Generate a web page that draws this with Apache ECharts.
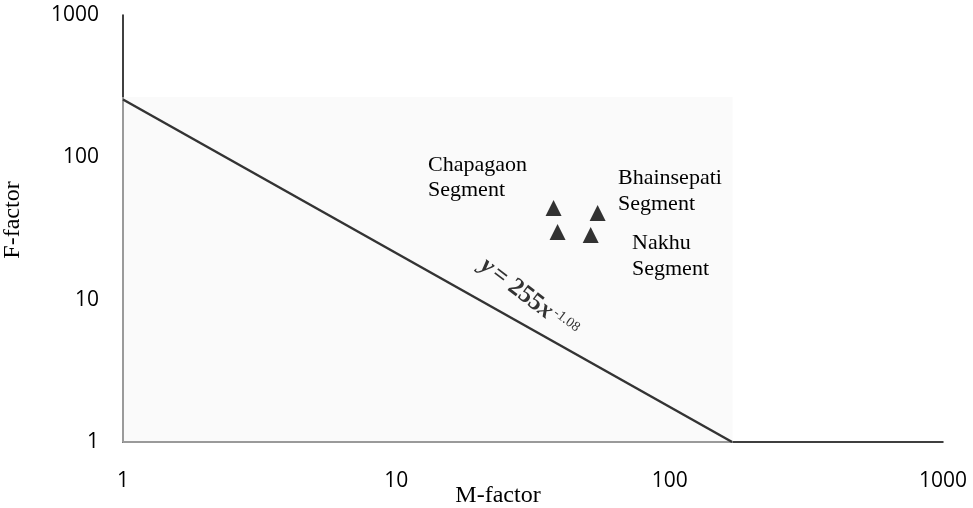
<!DOCTYPE html>
<html>
<head>
<meta charset="utf-8">
<script src="https://cdn.jsdelivr.net/npm/echarts@6/dist/echarts.min.js"></script>
<style>
  html, body { margin: 0; padding: 0; background: #ffffff; }
  #chart { width: 973px; height: 508px; }
</style>
</head>
<body>
<div id="chart"></div>
<script>
// Segment measurements (M-factor vs F-factor)
const mFactor = [37.6, 38.9, 54.5, 51.4];
const fFactor = [44.1, 29.9, 40.6, 28.5];

// Power-law boundary y = 255 x^-1.08, drawn between its two end points
const fitX = [1, 169.2];
const fitY = [255, 1];

// Shaded zone under the boundary
const shadeX = [1, 170];
const shadeY = [1, 265];

// Axis range (log scale)
const axisMin = 1;
const axisMax = 1000;

const points = mFactor.map((m, i) => [m, fFactor[i]]);
const fitLine = fitX.map((x, i) => [x, fitY[i]]);
const frame = [[shadeX[0], shadeY[1]], [shadeX[0], shadeY[0]], [shadeX[1], shadeY[0]]];

const serif = '"Liberation Serif", "DejaVu Serif", serif';
const sans = '"Open Sans", "Noto Sans", sans-serif';

const chart = echarts.init(document.getElementById('chart'));

const logAxis = (labelMargin) => ({
  type: 'log',
  logBase: 10,
  min: axisMin,
  max: axisMax,
  axisLine: { show: true, lineStyle: { color: '#000000', width: 1.5 } },
  axisTick: { show: false },
  splitLine: { show: false },
  axisLabel: {
    color: '#000000', fontFamily: sans, fontSize: 21, margin: labelMargin,
    formatter: (v) => String(Math.round(v))
  }
});

const txt = (x, y, text, font, extra) => ({
  type: 'text', x: x, y: y, z: 100,
  style: Object.assign({ text: text, font: font, fill: '#000', align: 'left', verticalAlign: 'middle' }, extra || {})
});

chart.setOption({
  animation: false,
  backgroundColor: '#ffffff',
  grid: { left: 123, right: 30, top: 15, bottom: 66 },
  xAxis: logAxis(29),
  yAxis: logAxis(24),
  series: [
    {
      name: 'zone',
      type: 'line',
      data: frame,
      symbol: 'none',
      lineStyle: { color: '#9a9a9a', width: 2 },
      z: 3,
      markArea: {
        silent: true,
        itemStyle: { color: '#fafafa' },
        data: [[{ coord: [shadeX[0], shadeY[0]] }, { coord: [shadeX[1], shadeY[1]] }]]
      }
    },
    {
      name: 'boundary',
      type: 'line',
      data: fitLine,
      symbol: 'none',
      lineStyle: { color: '#333333', width: 2.5 },
      z: 4
    },
    {
      name: 'segments',
      type: 'scatter',
      data: points,
      symbol: 'triangle',
      symbolSize: [16, 16],
      itemStyle: { color: '#000000' },
      z: 5
    }
  ],
  graphic: [
    txt(498, 496, 'M-factor', '24px ' + serif, { align: 'center' }),
    Object.assign(txt(13, 220, 'F-factor', '24px ' + serif, { align: 'center' }), { rotation: Math.PI / 2 }),
    txt(428, 178, 'Chapagaon\nSegment', '22px ' + serif, { lineHeight: 25 }),
    txt(618, 191, 'Bhainsepati\nSegment', '22px ' + serif, { lineHeight: 26 }),
    txt(632, 256, 'Nakhu\nSegment', '22px ' + serif, { lineHeight: 26 }),
    {
      type: 'text', x: 529, y: 298, rotation: -0.65, z: 100,
      style: {
        text: '{i|y} {n|= 255}{i|x}{s|-1.08}',
        align: 'center', verticalAlign: 'middle',
        rich: {
          i: { font: 'italic bold 25px ' + serif, fill: '#333', lineHeight: 30 },
          n: { font: 'bold 25px ' + serif, fill: '#333', lineHeight: 30 },
          s: { font: '14px ' + serif, fill: '#333', lineHeight: 30, verticalAlign: 'top', padding: [3, 0, 0, 2] }
        }
      }
    }
  ]
});
</script>
</body>
</html>
